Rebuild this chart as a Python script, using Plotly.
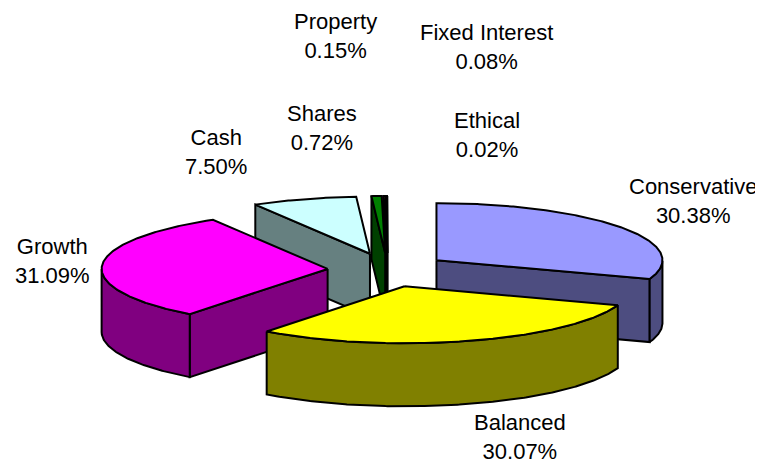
import numpy as np
import plotly.graph_objects as go

# ---- data ----
categories = ["Conservative", "Balanced", "Growth", "Cash", "Shares",
              "Property", "Fixed Interest", "Ethical"]
values = [30.38, 30.07, 31.09, 7.50, 0.72, 0.15, 0.08, 0.02]

# ---- style ----
top_colors = ["#9999FF", "#FFFF00", "#FF00FF", "#CCFFFF", "#008000",
              "#FF8080", "#CC0000", "#FFCCCC"]
side_colors = ["#4D4D80", "#808000", "#800080", "#668080", "#004000",
               "#804040", "#660000", "#806666"]
label_pos = [(693, 201), (520, 437), (52, 261), (216, 152), (322, 128),
             (335, 36), (486, 47), (487, 135)]

W, H = 763, 466
PAD = 8                    # default page body margin
CX, CY = 387.5, 270.0      # pie centre (pixel space)
RX, RY = 226.0, 57.0       # ellipse radii
DEPTH = 63.0               # thickness
EX, EY = 60.0, 17.0        # explode offsets

total = float(sum(values))
fig = go.Figure()


def rim(cx, cy, th, dz=0.0):
    return cx + RX * np.cos(th), cy - RY * np.sin(th) + dz


def poly(xs, ys, fill):
    fig.add_trace(go.Scatter(
        x=list(xs) + [xs[0]], y=list(ys) + [ys[0]], mode="lines", fill="toself",
        fillcolor=fill, line=dict(color="black", width=2),
        hoverinfo="skip", showlegend=False))


slices = []
cum = 0.0
for i, v in enumerate(values):
    hi = np.pi / 2 - 2 * np.pi * cum / total
    cum += v
    lo = np.pi / 2 - 2 * np.pi * cum / total
    mid = (hi + lo) / 2
    slices.append((i, lo, hi, mid))

# painter's order: back (large sin) first
order = sorted(slices, key=lambda s: -np.sin(s[3]))

for i, lo, hi, mid in order:
    cx = CX + EX * np.cos(mid)
    cy = CY - EY * np.sin(mid)
    # radial faces
    for th, vis in ((hi, np.cos(hi) < 0), (lo, np.cos(lo) > 0)):
        if vis:
            x1, y1 = rim(cx, cy, th)
            poly([cx, x1, x1, cx], [cy, y1, y1 + DEPTH, cy + DEPTH], side_colors[i])
    # curved outer side (front half where sin < 0)
    ts = np.linspace(lo, hi, max(3, int(np.degrees(hi - lo) * 2) + 3))
    front = np.sin(ts) < 0
    if front.any():
        idx = np.where(front)[0]
        runs = np.split(idx, np.where(np.diff(idx) != 1)[0] + 1)
        for r in runs:
            t = ts[r]
            xt, yt = rim(cx, cy, t)
            xs = list(xt) + list(xt[::-1])
            ys = list(yt) + list((yt + DEPTH)[::-1])
            poly(xs, ys, side_colors[i])
    # top face
    ts = np.linspace(hi, lo, max(3, int(np.degrees(hi - lo) * 2) + 3))
    xt, yt = rim(cx, cy, ts)
    poly([cx] + list(xt), [cy] + list(yt), top_colors[i])

for (name, v), (lx, ly) in zip(zip(categories, values), label_pos):
    fig.add_annotation(x=lx, y=ly, xref="x", yref="y", showarrow=False,
                       text=f"{name}<br>{v:.2f}%",
                       font=dict(family="Liberation Sans, Arial, sans-serif",
                                 size=22, color="black"))

fig.update_layout(
    width=W - PAD, height=H - PAD, margin=dict(l=0, r=0, t=0, b=0),
    paper_bgcolor="white", plot_bgcolor="white",
    xaxis=dict(range=[PAD, W], visible=False, fixedrange=True),
    yaxis=dict(range=[H, PAD], visible=False, fixedrange=True),
)
fig.write_html("out.html")
